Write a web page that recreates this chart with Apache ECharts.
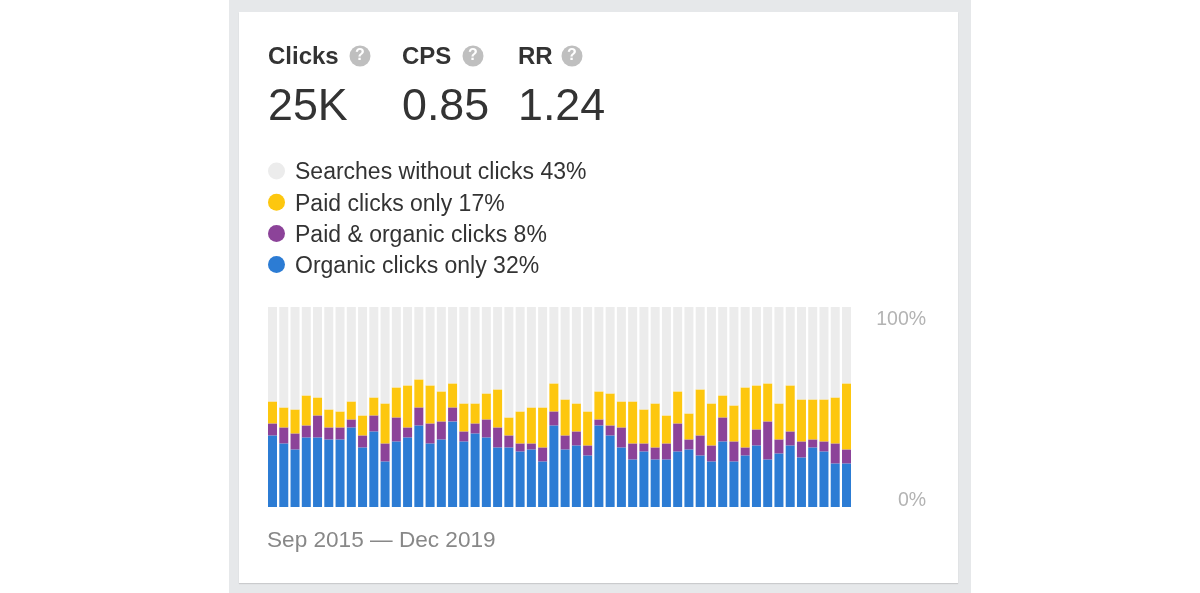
<!DOCTYPE html>
<html>
<head>
<meta charset="utf-8">
<style>
html,body{margin:0;padding:0;width:1200px;height:593px;background:#fff;overflow:hidden}
#panel{position:absolute;left:229px;top:0;width:742px;height:593px;background:#e6e8ea}
#card{position:absolute;left:239px;top:12px;width:719px;height:571px;background:#fff;box-shadow:0 1px 1px rgba(0,0,0,.12)}
#chart{position:absolute;left:0;top:0;width:1200px;height:593px}
</style>
</head>
<body>
<div id="panel"></div><div id="card"></div>
<div id="chart"></div>
<script src="https://cdn.jsdelivr.net/npm/echarts@6/dist/echarts.min.js"></script>
<script>
const categories = ['2015-09','2015-10','2015-11','2015-12',
 '2016-01','2016-02','2016-03','2016-04','2016-05','2016-06','2016-07','2016-08','2016-09','2016-10','2016-11','2016-12',
 '2017-01','2017-02','2017-03','2017-04','2017-05','2017-06','2017-07','2017-08','2017-09','2017-10','2017-11','2017-12',
 '2018-01','2018-02','2018-03','2018-04','2018-05','2018-06','2018-07','2018-08','2018-09','2018-10','2018-11','2018-12',
 '2019-01','2019-02','2019-03','2019-04','2019-05','2019-06','2019-07','2019-08','2019-09','2019-10','2019-11','2019-12'];
const organic = [35.8,31.8,28.8,34.8,34.8,33.8,33.8,39.8,29.8,37.8,22.8,32.8,34.8,40.8,31.8,33.8,42.8,32.8,36.8,34.8,29.8,29.8,27.8,28.8,22.8,40.8,28.8,30.8,25.8,40.8,35.8,29.8,23.8,27.8,23.8,23.8,27.8,28.8,25.8,22.8,32.8,22.8,25.8,30.8,23.8,26.8,30.8,24.8,29.8,27.8,21.8,21.8];
const both = [6,8,8,6,11,6,6,4,6,8,9,12,5,9,10,9,7,5,5,9,10,6,4,3,7,7,7,7,5,3,5,10,8,4,6,8,14,5,10,8,12,10,4,8,19,7,7,8,4,5,10,7];
const paid = [11,10,12,15,9,9,8,9,10,9,20,15,21,14,19,15,12,14,10,13,19,9,16,18,20,14,18,14,17,14,16,13,21,17,22,14,16,13,23,21,11,18,30,22,19,18,23,21,20,21,23,33];
const none = organic.map((v, i) => 100 - v - both[i] - paid[i]);
const seriesNames = ['Organic clicks only 32%','Paid & organic clicks 8%','Paid clicks only 17%','Searches without clicks 43%'];
const legendOrder = ['Searches without clicks 43%','Paid clicks only 17%','Paid & organic clicks 8%','Organic clicks only 32%'];
const seriesColors = ['#2c7cd4','#8c4399','#fdc70f','#ececec'];
const seriesValues = [organic, both, paid, none];
const statHeads = ['Clicks','CPS','RR'];
const statValues = ['25K','0.85','1.24'];
const statX = [268,402,518];
const helpX = [360,473,572];
const dateRange = 'Sep 2015 \u2014 Dec 2019';
const FONT = '"Liberation Sans", Arial, sans-serif';

const graphics = [];
statHeads.forEach((h, i) => {
  graphics.push({type:'text', left:statX[i], top:45, style:{text:h, font:'bold 24px '+FONT, fill:'#333'}});
  graphics.push({type:'text', left:statX[i], top:85, style:{text:statValues[i], font:'44.8px '+FONT, fill:'#333'}});
  graphics.push({type:'circle', shape:{cx:helpX[i], cy:56, r:10.5}, style:{fill:'#bfbfbf'}});
  graphics.push({type:'text', x:helpX[i], y:56, style:{text:'?', font:'bold 16px '+FONT, fill:'#fff', align:'center', verticalAlign:'middle'}});
});
graphics.push({type:'text', left:267, top:529, style:{text:dateRange, font:'22.6px '+FONT, fill:'#888'}});

const chart = echarts.init(document.getElementById('chart'), null, {renderer:'canvas'});
chart.setOption({
  animation:false,
  backgroundColor:'transparent',
  grid:{left:266.9, top:307, width:585.2, height:200, containLabel:false},
  legend:{
    data:legendOrder, orient:'vertical', left:268, top:157, padding:0, icon:'circle',
    itemWidth:17, itemHeight:17, itemGap:3.2, selectedMode:false,
    formatter: name => '{t|' + name + '}',
    textStyle:{fontFamily:FONT, fontSize:23, color:'#333', padding:[0,0,0,5],
      rich:{t:{fontFamily:FONT, fontSize:23, color:'#333', height:24, lineHeight:24, padding:[4,0,0,0]}}}
  },
  xAxis:{type:'category', data:categories, axisLine:{show:false}, axisTick:{show:false}, axisLabel:{show:false}, splitLine:{show:false}},
  yAxis:{type:'value', position:'right', min:0, max:100, interval:100,
    axisLine:{show:false}, axisTick:{show:false}, splitLine:{show:false},
    axisLabel:{formatter:'{value}%', fontFamily:FONT, fontSize:19.5, color:'#b3b3b3', align:'right', margin:74,
      verticalAlignMinLabel:'bottom', verticalAlignMaxLabel:'top', lineHeight:12, padding:[7,0,0,0]}
  },
  graphic:graphics,
  series:seriesNames.map((name, i) => ({
    name, type:'bar', stack:'total', barWidth:9, data:seriesValues[i],
    itemStyle:{color:seriesColors[i]}, emphasis:{disabled:true}
  }))
});
</script>
</body>
</html>
